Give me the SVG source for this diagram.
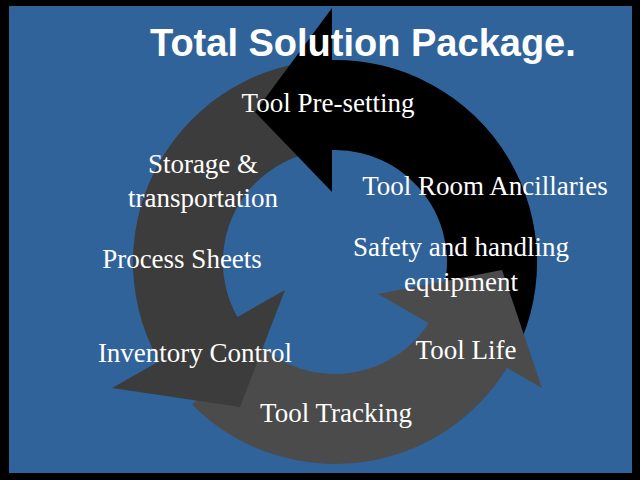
<svg xmlns="http://www.w3.org/2000/svg" width="640" height="480" viewBox="0 0 640 480">
<style>
.t{font-family:"Liberation Serif","Times New Roman",serif;font-size:27px;fill:#fff;text-anchor:middle}
.h{font-family:"Liberation Sans",Arial,sans-serif;font-size:38px;font-weight:bold;fill:#fff}
</style>
<rect width="640" height="480" fill="#000"/>
<rect x="9" y="6" width="623" height="467" fill="#31639b"/>
<g id="arrows">
<path d="M163.7 369.1 A202 202 0 0 1 317.4 60.8 L325.2 150.4 A112 112 0 0 0 240 321.4 Z" fill="#3c3c3c"/>
<path d="M513.4 356.8 A202 202 0 0 1 192.2 404.8 L255.8 341.2 A112 112 0 0 0 433.9 314.6 Z" fill="#4b4b4b"/>
<path d="M328 60.1 A202 202 0 0 1 510 363 L432 318 A112 112 0 0 0 331.1 150.1 Z" fill="#000"/>
<polygon points="112,388 285,290 240,407" fill="#3c3c3c"/>
<polygon points="378,294 502,270 542,388" fill="#4b4b4b"/>
<polygon points="332,8 255,112 332,192" fill="#000"/>
</g>
<text class="h" x="150" y="56">Total Solution Package.</text>
<g id="labels">
<text class="t" x="328" y="112">Tool Pre-setting</text>
<text class="t" x="203" y="173">Storage &amp;</text>
<text class="t" x="203" y="207">transportation</text>
<text class="t" x="485" y="195">Tool Room Ancillaries</text>
<text class="t" x="461" y="256">Safety and handling</text>
<text class="t" x="461" y="291">equipment</text>
<text class="t" x="182" y="268">Process Sheets</text>
<text class="t" x="466" y="359">Tool Life</text>
<text class="t" x="195" y="362">Inventory Control</text>
<text class="t" x="336" y="422">Tool Tracking</text>
</g>
</svg>
